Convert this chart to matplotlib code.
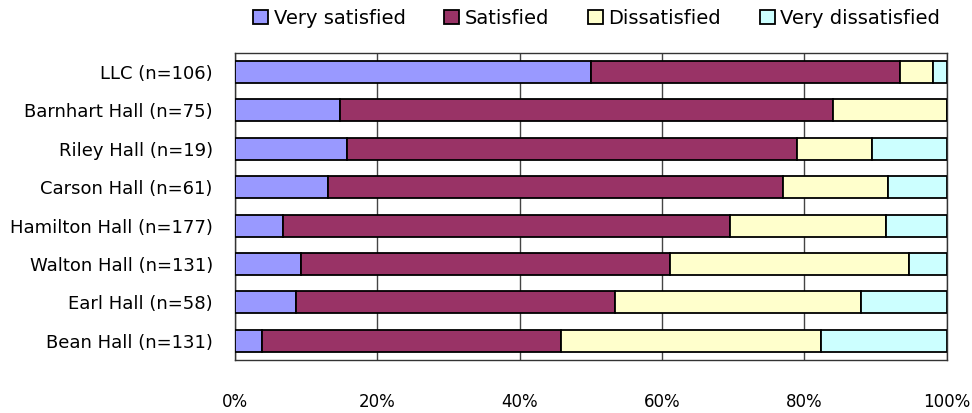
import matplotlib.pyplot as plt
import numpy as np

halls = ['LLC (n=106)', 'Barnhart Hall (n=75)', 'Riley Hall (n=19)', 'Carson Hall (n=61)',
         'Hamilton Hall (n=177)', 'Walton Hall (n=131)', 'Earl Hall (n=58)', 'Bean Hall (n=131)']
very_satisfied = [50.0, 14.7, 15.8, 13.1, 6.8, 9.2, 8.6, 3.8]
satisfied = [43.4, 69.3, 63.2, 63.9, 62.7, 51.9, 44.8, 42.0]
dissatisfied = [4.7, 16.0, 10.5, 14.8, 22.0, 33.6, 34.5, 36.6]
very_dissatisfied = [1.9, 0.0, 10.5, 8.2, 8.5, 5.3, 12.1, 17.6]

series = ['Very satisfied', 'Satisfied', 'Dissatisfied', 'Very dissatisfied']
colors = ['#9999ff', '#993366', '#ffffcc', '#ccffff']

plt.rcParams['font.family'] = ['DejaVu Sans']

fig = plt.figure(figsize=(9.72, 4.13), dpi=100)
ax = fig.add_axes([0.2418, 0.1283, 0.7322, 0.7441])

y = np.arange(len(halls))
left = np.zeros(len(halls))
for name, vals, col in zip(series, [very_satisfied, satisfied, dissatisfied, very_dissatisfied], colors):
    vals = np.array(vals)
    ax.barh(y, vals, left=left, height=0.571, color=col, edgecolor='black',
            linewidth=1.3, label=name, zorder=3)
    left += vals

ax.set_xlim(0, 100)
ax.set_ylim(len(halls) - 0.5, -0.5)
ax.set_yticks(y)
ax.set_yticklabels(halls, fontsize=13)
ax.set_xticks(np.arange(0, 101, 20))
ax.set_xticklabels([f'{v}%' for v in range(0, 101, 20)], fontsize=12)
ax.tick_params(axis='both', length=0)
ax.tick_params(axis='x', pad=24)
ax.tick_params(axis='y', pad=16)
ax.xaxis.grid(True, color='#444444', linewidth=1, zorder=0)
for s in ax.spines.values():
    s.set_color('#333333')
    s.set_linewidth(1)

fig.legend(loc='center', bbox_to_anchor=(0.614, 0.955), ncol=4, frameon=False,
           fontsize=14, handlelength=0.75, handleheight=0.75, handletextpad=0.3,
           columnspacing=2.0)

fig.savefig('out.png', dpi=100)
